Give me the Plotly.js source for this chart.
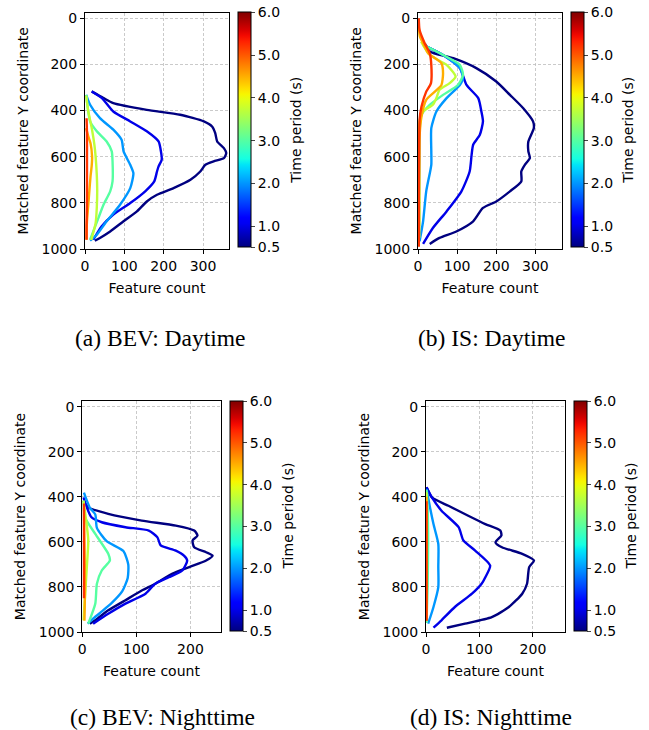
<!DOCTYPE html>
<html><head><meta charset="utf-8">
<script src="https://cdn.plot.ly/plotly-3.0.1.min.js"></script>
<style>html,body{margin:0;padding:0;background:#fff}#chart{width:649px;height:730px}</style>
</head><body><div id="chart"></div>
<script>
// Time periods (s) of the plotted curves (estimated from line colours)
const periods = [0.5, 1.0, 2.0, 3.0, 3.7, 4.5, 5.2];
const cbTickVals = [0.5, 1, 2, 3, 4, 5, 6];
const cbTickText = ['0.5', '1.0', '2.0', '3.0', '4.0', '5.0', '6.0'];
const yTicks = [0, 200, 400, 600, 800, 1000];
const xTicksDay = [0, 100, 200, 300];
const xTicksNight = [0, 100, 200];
const captions = ['(a) BEV: Daytime', '(b) IS: Daytime', '(c) BEV: Nighttime', '(d) IS: Nighttime'];

// (a) BEV: Daytime  — Y coordinate / feature count, one row per period
const bevDayY = [
  [317,346,368,397,418,447,469,498,534,563,584,606,620,635,664,700,736,765,794,837,880,924,952,964],
  [317,346,404,447,490,534,577,613,642,664,707,750,801,851,902,960],
  [332,375,433,483,527,577,635,671,736,808,880,938,964],
  [332,375,447,490,534,577,620,707,750,808,866,924,960],
  [335,400,484,550,600,680,744,820,888,961],
  [476,510,542,600,640,686,750,817,880,947,960],
  [433,500,600,700,800,900,960]
];
const bevDayX = [
  [17,47,72,157,242,302,323,331,336,353,359,353,327,306,293,268,225,183,157,132,98,64,38,25],
  [17,43,72,115,157,187,193,195,187,183,176,153,115,72,42,21],
  [3,13,38,72,93,98,115,123,115,89,55,30,13],
  [3,6,13,30,55,68,70,70,64,47,34,21,13],
  [3,8,18,24,27,30,31,30,27,16],
  [3,8,14,18,17,14,11,8,5,4,4],
  [4,5,5,5,5,4,4]
];

// (b) IS: Daytime
const isDayY = [
  [108,144,173,216,274,332,390,447,476,534,577,606,635,664,707,750,794,822,880,924,952,978],
  [115,159,216,289,346,404,447,505,548,592,664,750,837,909,978],
  [115,159,216,260,289,346,404,476,577,635,750,880,967],
  [115,159,202,245,289,332,375,418,490,664,952],
  [101,159,202,253,281,310,346,375,404,447,600,900],
  [40,80,108,152,195,238,289,318,354,426,513,700,950],
  [0,51,108,152,202,282,318,383,440,600,800,990]
];
const isDayX = [
  [17,30,90,149,200,235,269,294,296,282,282,286,273,264,264,235,200,166,141,98,55,30],
  [13,64,107,124,154,162,166,158,141,137,132,111,73,38,13],
  [13,64,107,115,107,73,47,34,34,34,21,13,4],
  [13,64,107,115,102,64,30,9,4,3,3],
  [8,30,73,96,81,55,47,38,13,4,3,3],
  [2,5,13,26,60,64,60,43,21,9,4,3,3],
  [2,4,17,30,34,33,21,9,4,3,2,2]
];

// (c) BEV: Nighttime
const bevNightY = [
  [417,447,476,506,528,550,572,594,624,646,661,683,712,742,786,816,860,904,948,963],
  [403,491,513,535,550,580,616,639,661,683,727,757,786,830,875,919,963],
  [382,449,478,538,597,641,700,760,819,870,915,945,963],
  [417,491,565,653,683,727,786,875,963],
  [417,521,594,727,845,948],
  [450,600,800,950],
  [430,600,850]
];
const bevNightX = [
  [2,11,48,110,173,207,213,204,207,229,241,229,198,166,135,110,79,48,24,14],
  [2,17,36,80,123,139,145,173,188,194,185,160,135,117,79,48,20],
  [3,14,24,27,45,76,85,84,74,55,33,18,10],
  [2,5,24,48,51,36,27,24,11],
  [2,8,11,8,5,2],
  [3,4,5,4],
  [3,3,3]
];

// (d) IS: Nighttime
const isNightY = [
  [358,403,440,484,521,550,572,602,624,653,683,712,786,830,889,934,963,981],
  [358,403,462,535,594,639,705,757,786,830,889,948,981],
  [365,447,521,609,712,801,889,963],
  [370,450,600,800,960],
  [380,600,900],
  [400,700,950],
  [420,700,950]
];
const isNightX = [
  [1,11,42,79,111,139,141,130,142,180,202,193,189,180,155,123,73,39],
  [1,11,29,61,70,92,120,111,104,86,54,29,14],
  [1,7.5,14,23,23,23,14,4],
  [1,3,4,3,1],
  [1,1,1],
  [1,1,1],
  [1,1,1]
];

// matplotlib 'jet' colormap
const JET = {
  r: [[0,0],[0.35,0],[0.66,1],[0.89,1],[1,0.5]],
  g: [[0,0],[0.125,0],[0.375,1],[0.64,1],[0.91,0],[1,0]],
  b: [[0,0.5],[0.11,1],[0.34,1],[0.65,0],[1,0]]
};
function seg(s, t) {
  for (let i = 1; i < s.length; i++) {
    if (t <= s[i][0]) {
      const f = (t - s[i-1][0]) / (s[i][0] - s[i-1][0]);
      return s[i-1][1] + f * (s[i][1] - s[i-1][1]);
    }
  }
  return s[s.length-1][1];
}
function jet(t) {
  t = Math.max(0, Math.min(1, t));
  return 'rgb(' + [seg(JET.r,t), seg(JET.g,t), seg(JET.b,t)].map(v => Math.round(v*255)).join(',') + ')';
}
const CMIN = 0.5, CMAX = 6.0;
const jetScale = [];
for (let i = 0; i <= 40; i++) jetScale.push([i/40, jet(i/40)]);

const W = 649, H = 730;
const FONT = 'DejaVu Sans, sans-serif';
const panels = [
  {Y: bevDayY, X: bevDayX, l: 85, r: 229, t: 12.5, b: 249, cb: 238, cbt: 296, xmax: 366, ytop: -25, xt: xTicksDay, cap: [160, 338]},
  {Y: isDayY, X: isDayX, l: 418, r: 562, t: 12.5, b: 249, cb: 571, cbt: 628, xmax: 368, ytop: -25, xt: xTicksDay, cap: [492, 338]},
  {Y: bevNightY, X: bevNightX, l: 82.3, r: 220.7, t: 401, b: 632, cb: 230, cbt: 287, xmax: 256, ytop: -25, xt: xTicksNight, cap: [162, 717]},
  {Y: isNightY, X: isNightX, l: 426, r: 565, t: 401, b: 632, cb: 574, cbt: 630, xmax: 260, ytop: -25, xt: xTicksNight, cap: [491, 717]}
];

const traces = [];
const layout = {
  width: W, height: H, margin: {l: 0, r: 0, t: 0, b: 0},
  paper_bgcolor: '#fff', plot_bgcolor: '#fff', showlegend: false,
  font: {family: FONT, size: 14, color: '#000'},
  annotations: []
};

panels.forEach((p, k) => {
  const n = k === 0 ? '' : String(k + 1);
  const xa = 'x' + n, ya = 'y' + n;
  periods.forEach((per, i) => {
    traces.push({
      type: 'scatter', mode: 'lines', xaxis: xa, yaxis: ya,
      x: p.X[i], y: p.Y[i], hoverinfo: 'skip',
      line: {color: jet((per - CMIN) / (CMAX - CMIN)), width: 2.4, shape: 'spline', smoothing: 0.6}
    });
  });
  const ca = 'coloraxis' + n;
  traces.push({
    type: 'scatter', mode: 'markers', xaxis: xa, yaxis: ya,
    x: [p.xmax * 2], y: [500], hoverinfo: 'skip',
    marker: {color: [CMIN], coloraxis: ca, size: 1}
  });
  const grid = {showgrid: true, gridcolor: '#bdbdbd', griddash: '3px,2px', gridwidth: 0.8,
    zeroline: false, showline: true, mirror: true, linecolor: '#000', linewidth: 1,
    ticks: 'outside', ticklen: 4, tickcolor: '#000', tickfont: {family: FONT, size: 14, color: '#000'}};
  layout['xaxis' + n] = Object.assign({}, grid, {
    domain: [p.l / W, p.r / W], anchor: ya, range: [0, p.xmax],
    tickvals: p.xt, ticktext: p.xt.map(String),
    title: {text: 'Feature count', font: {family: FONT, size: 14}, standoff: 10}
  });
  layout['yaxis' + n] = Object.assign({}, grid, {
    domain: [1 - p.b / H, 1 - p.t / H], anchor: xa, range: [1000, p.ytop],
    tickvals: yTicks, ticktext: yTicks.map(String),
    title: {text: 'Matched feature Y coordinate', font: {family: FONT, size: 14}, standoff: 9}
  });
  layout[ca] = {
    cmin: CMIN, cmax: CMAX, colorscale: jetScale,
    colorbar: {
      x: p.cb / W, xanchor: 'left', y: 1 - p.t / H, yanchor: 'top',
      len: (p.b - p.t - 1) / H, lenmode: 'fraction', thickness: 13, thicknessmode: 'pixels',
      xpad: 0, ypad: 0, outlinewidth: 1, outlinecolor: '#000', borderwidth: 0,
      tickvals: cbTickVals, ticktext: cbTickText, ticks: 'outside', ticklen: 4,
      tickfont: {family: FONT, size: 14, color: '#000'}
    }
  };
  layout.annotations.push({
    xref: 'paper', yref: 'paper', x: p.cbt / W, y: 1 - ((p.t + p.b) / 2) / H,
    xanchor: 'center', yanchor: 'middle', showarrow: false, textangle: -90,
    text: 'Time period (s)', font: {family: FONT, size: 14, color: '#000'}
  });
  layout.annotations.push({
    xref: 'paper', yref: 'paper', x: p.cap[0] / W, y: 1 - p.cap[1] / H,
    xanchor: 'center', yanchor: 'middle', showarrow: false, text: captions[k],
    font: {family: 'Liberation Serif, Times New Roman, serif', size: 23.5, color: '#000'}
  });
});

Plotly.newPlot('chart', traces, layout, {displayModeBar: false, staticPlot: true});
</script>
</body></html>
